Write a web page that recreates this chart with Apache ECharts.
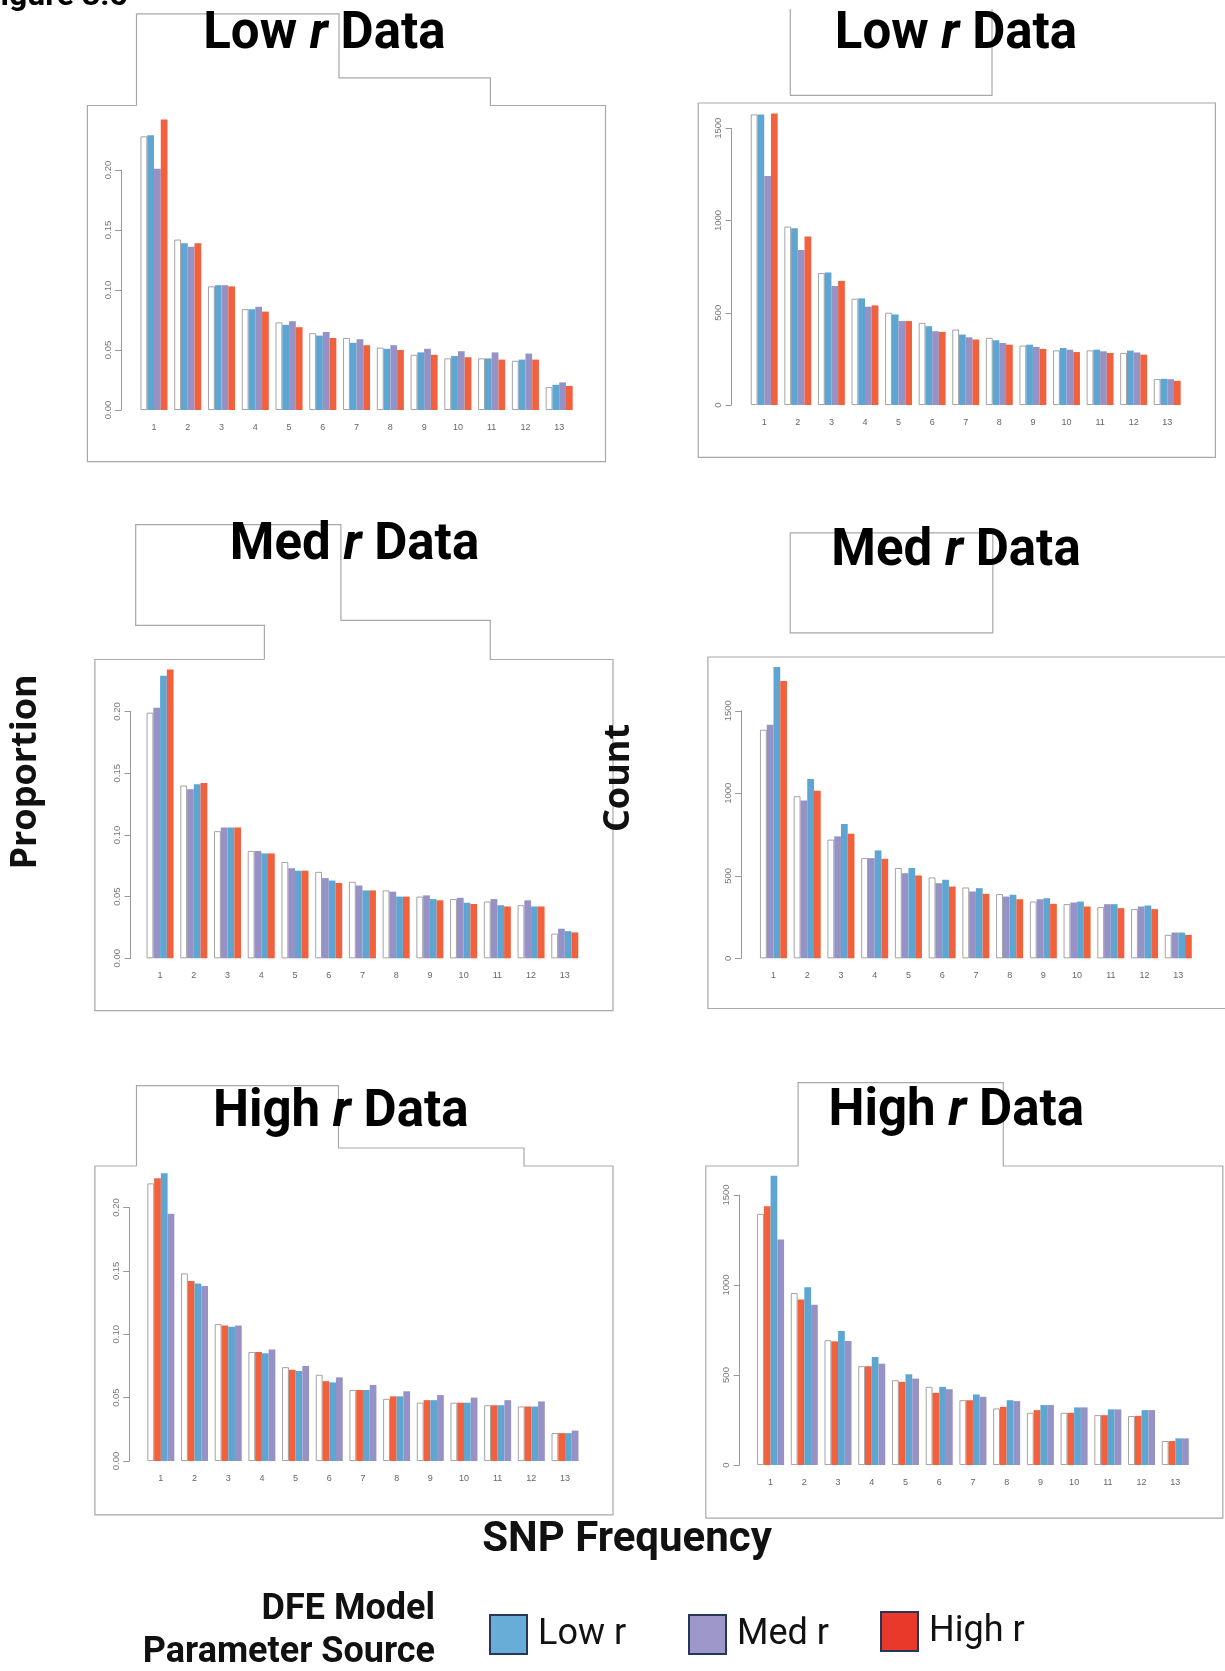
<!DOCTYPE html>
<html><head><meta charset="utf-8">
<script src="https://cdn.jsdelivr.net/npm/echarts@6/dist/echarts.min.js"></script>
<style>html,body{margin:0;padding:0;background:#fff}#c{width:1225px;height:1671px}</style>
</head><body><div id="c"></div>
<script>
// ---------- DATA ----------
const categories = ['1','2','3','4','5','6','7','8','9','10','11','12','13'];
const propTicks = [0, 0.05, 0.10, 0.15, 0.20];
const countTicks = [0, 500, 1000, 1500];

// Low r Data – proportion (order: data, Low r, Med r, High r)
const tlData = [0.228,0.142,0.103,0.084,0.073,0.064,0.060,0.052,0.046,0.043,0.043,0.041,0.019];
const tlLow  = [0.229,0.139,0.104,0.084,0.071,0.062,0.056,0.051,0.048,0.045,0.043,0.042,0.021];
const tlMed  = [0.201,0.136,0.104,0.086,0.074,0.065,0.059,0.054,0.051,0.049,0.048,0.047,0.023];
const tlHigh = [0.242,0.139,0.103,0.082,0.069,0.060,0.054,0.050,0.046,0.044,0.042,0.042,0.020];
// Low r Data – count
const trData = [1575,967,715,576,500,445,409,364,322,296,296,282,140];
const trLow  = [1575,958,718,578,491,427,382,351,327,309,300,295,142];
const trMed  = [1241,840,645,533,455,400,367,336,315,300,291,285,140];
const trHigh = [1580,913,673,540,455,396,355,327,304,287,282,273,131];
// Med r Data – proportion (order: data, Med r, Low r, High r)
const mlData = [0.199,0.140,0.103,0.087,0.078,0.070,0.062,0.055,0.050,0.048,0.046,0.043,0.020];
const mlMed  = [0.203,0.137,0.106,0.087,0.073,0.065,0.059,0.054,0.051,0.049,0.048,0.047,0.024];
const mlLow  = [0.229,0.141,0.106,0.085,0.071,0.063,0.055,0.050,0.048,0.045,0.043,0.042,0.022];
const mlHigh = [0.234,0.142,0.106,0.085,0.071,0.061,0.055,0.050,0.047,0.044,0.042,0.042,0.021];
// Med r Data – count
const mrData = [1385,982,719,607,547,490,429,389,344,328,310,298,142];
const mrMed  = [1415,957,739,607,516,455,405,374,358,338,328,314,156];
const mrLow  = [1765,1087,814,654,547,476,425,385,364,344,328,320,156];
const mrHigh = [1680,1016,755,603,502,435,391,358,330,314,304,298,142];
// High r Data – proportion (order: data, High r, Low r, Med r)
const blData = [0.219,0.148,0.108,0.086,0.074,0.068,0.056,0.049,0.046,0.046,0.044,0.043,0.022];
const blHigh = [0.223,0.142,0.107,0.086,0.072,0.063,0.056,0.051,0.048,0.046,0.044,0.043,0.022];
const blLow  = [0.227,0.140,0.106,0.085,0.071,0.062,0.056,0.051,0.048,0.046,0.044,0.043,0.022];
const blMed  = [0.195,0.138,0.107,0.088,0.075,0.066,0.060,0.055,0.052,0.050,0.048,0.047,0.024];
// High r Data – count
const brData = [1395,955,693,549,471,434,360,314,290,290,277,272,133];
const brHigh = [1437,920,687,549,462,401,360,323,305,290,277,273,133];
const brLow  = [1607,988,745,600,504,434,392,360,333,320,309,305,148];
const brMed  = [1253,890,689,563,480,421,379,355,333,320,309,305,148];

// ---------- STYLE / LAYOUT ----------
const COLORS = {'Data':'#ffffff','Low r':'#5ea5d2','Med r':'#9792c5','High r':'#f2613d'};
const LEGEND_COLORS = {'Low r':'#68acd8','Med r':'#9d98c9','High r':'#e8392b'};
const panels = [
  {x1:140.5, x2:572.7,  axisX:121.0, y0:410.0,  yTop:170.0,  ticks:propTicks,
   series:[['Data',tlData],['Low r',tlLow],['Med r',tlMed],['High r',tlHigh]]},
  {x1:750.8, x2:1180.7, axisX:731.5, y0:405.0,  yTop:128.3,  ticks:countTicks,
   series:[['Data',trData],['Low r',trLow],['Med r',trMed],['High r',trHigh]]},
  {x1:146.6, x2:578.3,  axisX:130.5, y0:958.3,  yTop:711.5,  ticks:propTicks,
   series:[['Data',mlData],['Med r',mlMed],['Low r',mlLow],['High r',mlHigh]]},
  {x1:760.0, x2:1191.8, axisX:741.0, y0:958.3,  yTop:710.8,  ticks:countTicks,
   series:[['Data',mrData],['Med r',mrMed],['Low r',mrLow],['High r',mrHigh]]},
  {x1:147.4, x2:578.5,  axisX:129.3, y0:1461.0, yTop:1207.5, ticks:propTicks,
   series:[['Data',blData],['High r',blHigh],['Low r',blLow],['Med r',blMed]]},
  {x1:757.1, x2:1188.8, axisX:739.7, y0:1465.0, yTop:1195.0, ticks:countTicks,
   series:[['Data',brData],['High r',brHigh],['Low r',brLow],['Med r',brMed]]}
];

const grids = [], xAxes = [], yAxes = [], series = [];
panels.forEach((p, i) => {
  const u = (p.x2 - p.x1) / 64;
  const left = p.x1 - u / 2;
  const isProp = p.ticks === propTicks;
  grids.push({left: left, top: p.yTop, width: (p.x2 - p.x1) + u, height: p.y0 - p.yTop,
              containLabel: false, outerBoundsMode: 'none'});
  xAxes.push({type:'category', gridIndex:i, data:categories,
    axisLine:{show:false}, axisTick:{show:false}, splitLine:{show:false},
    axisLabel:{fontSize:9, color:'#666', margin:13, interval:0, fontFamily:'Liberation Sans'}});
  yAxes.push({type:'value', gridIndex:i, position:'left', offset: left - p.axisX,
    min:p.ticks[0], max:p.ticks[p.ticks.length-1], interval:p.ticks[1]-p.ticks[0],
    axisLine:{show:true, lineStyle:{color:'#999', width:1}},
    axisTick:{show:true, length:6, lineStyle:{color:'#999'}},
    splitLine:{show:false},
    axisLabel:{rotate:90, fontSize:9.5, color:'#777', margin:8, fontFamily:'Liberation Sans',
      formatter: v => isProp ? v.toFixed(2) : String(v)}});
  p.series.forEach(([name, data]) => {
    series.push({type:'bar', name:name, xAxisIndex:i, yAxisIndex:i, data:data,
      barWidth:u, barGap:'0%', clip:false, silent:true,
      itemStyle: name === 'Data'
        ? {color:'#ffffff', borderColor:'#999999', borderWidth:0.9}
        : {color:COLORS[name]}});
  });
});

function titleText(word, cx, cy) {
  return {type:'text', x:cx, y:cy, silent:true, style:{
    text:'{a|' + word + ' }{i|r}{a| Data}', align:'center', verticalAlign:'middle',
    rich:{
      a:{fontSize:51, fontWeight:'bold', fontFamily:'Roboto', fill:'#000'},
      i:{fontSize:51, fontWeight:'bold', fontStyle:'italic', fontFamily:'Roboto', fill:'#000'}
    }}};
}
function outline(points) {
  return {type:'polyline', silent:true, shape:{points:points},
          style:{stroke:'#a8a8a8', lineWidth:1.2, fill:null}};
}

const graphics = [
  // panel frames (figure decoration)
  outline([[136.5,105.5],[87.4,105.5],[87.4,461.6],[605.5,461.6],[605.5,105.5],[490.4,105.5],[490.4,77.8],[339,77.8],[339,13.9],[136.5,13.9],[136.5,105.5]]),
  outline([[698.3,103],[1215.4,103],[1215.4,457.4],[698.3,457.4],[698.3,103]]),
  outline([[790.3,9],[790.3,95.4],[992,95.4],[992,9]]),
  outline([[264.4,659.5],[94.9,659.5],[94.9,1010.7],[613,1010.7],[613,659.5],[490.3,659.5],[490.3,620.3],[340.9,620.3],[340.9,524.7],[135.7,524.7],[135.7,625.4],[264.4,625.4],[264.4,659.5]]),
  outline([[1226,657],[707.9,657],[707.9,1008.5],[1226,1008.5]]),
  outline([[790.2,532.8],[992.8,532.8],[992.8,632.8],[790.2,632.8],[790.2,532.8]]),
  outline([[136.5,1166],[94.9,1166],[94.9,1514.9],[613,1514.9],[613,1166],[524,1166],[524,1148],[338.5,1148],[338.5,1085.6],[136.5,1085.6],[136.5,1166]]),
  outline([[798.1,1166],[705.8,1166],[705.8,1518.1],[1222.8,1518.1],[1222.8,1166],[1003.3,1166],[1003.3,1082.7],[798.1,1082.7],[798.1,1166]]),
  // titles
  titleText('Low', 324.4, 35), titleText('Low', 956, 35),
  titleText('Med', 354.5, 546), titleText('Med', 956, 552),
  titleText('High', 340.7, 1113), titleText('High', 956.2, 1112),
  // figure label (cut at top-left)
  {type:'text', x:-17, y:-3, silent:true, style:{text:'Figure 3.5', fontSize:32, fontWeight:'bold',
    fontFamily:'Roboto', fill:'#000', align:'left', verticalAlign:'middle'}},
  // axis titles
  {type:'text', x:25.6, y:772, rotation:Math.PI/2, silent:true, style:{text:'Proportion', fontSize:36,
    fontWeight:'bold', fontFamily:'Open Sans', fill:'#111', align:'center', verticalAlign:'middle'}},
  {type:'text', x:619, y:778, rotation:Math.PI/2, silent:true, style:{text:'Count', fontSize:36,
    fontWeight:'bold', fontFamily:'Open Sans', fill:'#111', align:'center', verticalAlign:'middle'}},
  {type:'text', x:627, y:1540, silent:true, style:{text:'SNP Frequency', fontSize:42,
    fontWeight:'bold', fontFamily:'Roboto', fill:'#111', align:'center', verticalAlign:'middle'}},
  {type:'text', x:435, y:1610, silent:true, style:{text:'DFE Model', fontSize:36,
    fontWeight:'bold', fontFamily:'Roboto', fill:'#111', align:'right', verticalAlign:'middle'}},
  {type:'text', x:435, y:1653, silent:true, style:{text:'Parameter Source', fontSize:36,
    fontWeight:'bold', fontFamily:'Roboto', fill:'#111', align:'right', verticalAlign:'middle'}}
];

function legendFor(name, left, top) {
  return {data:[{name:name, icon:'rect', itemStyle:{color:LEGEND_COLORS[name], borderColor:'#27375a', borderWidth:2}}],
    left:left, top:top, itemWidth:37, itemHeight:39, itemGap:0, padding:0, selectedMode:false,
    textStyle:{fontSize:36, fontFamily:'Roboto', color:'#111', padding:[0,0,0,6]}};
}

const chart = echarts.init(document.getElementById('c'), null, {renderer:'canvas'});
chart.setOption({
  backgroundColor:'#ffffff',
  animation:false,
  grid:grids, xAxis:xAxes, yAxis:yAxes, series:series,
  legend:[legendFor('Low r', 489, 1614), legendFor('Med r', 688, 1614), legendFor('High r', 880, 1611)],
  graphic:graphics
});
</script></body></html>
